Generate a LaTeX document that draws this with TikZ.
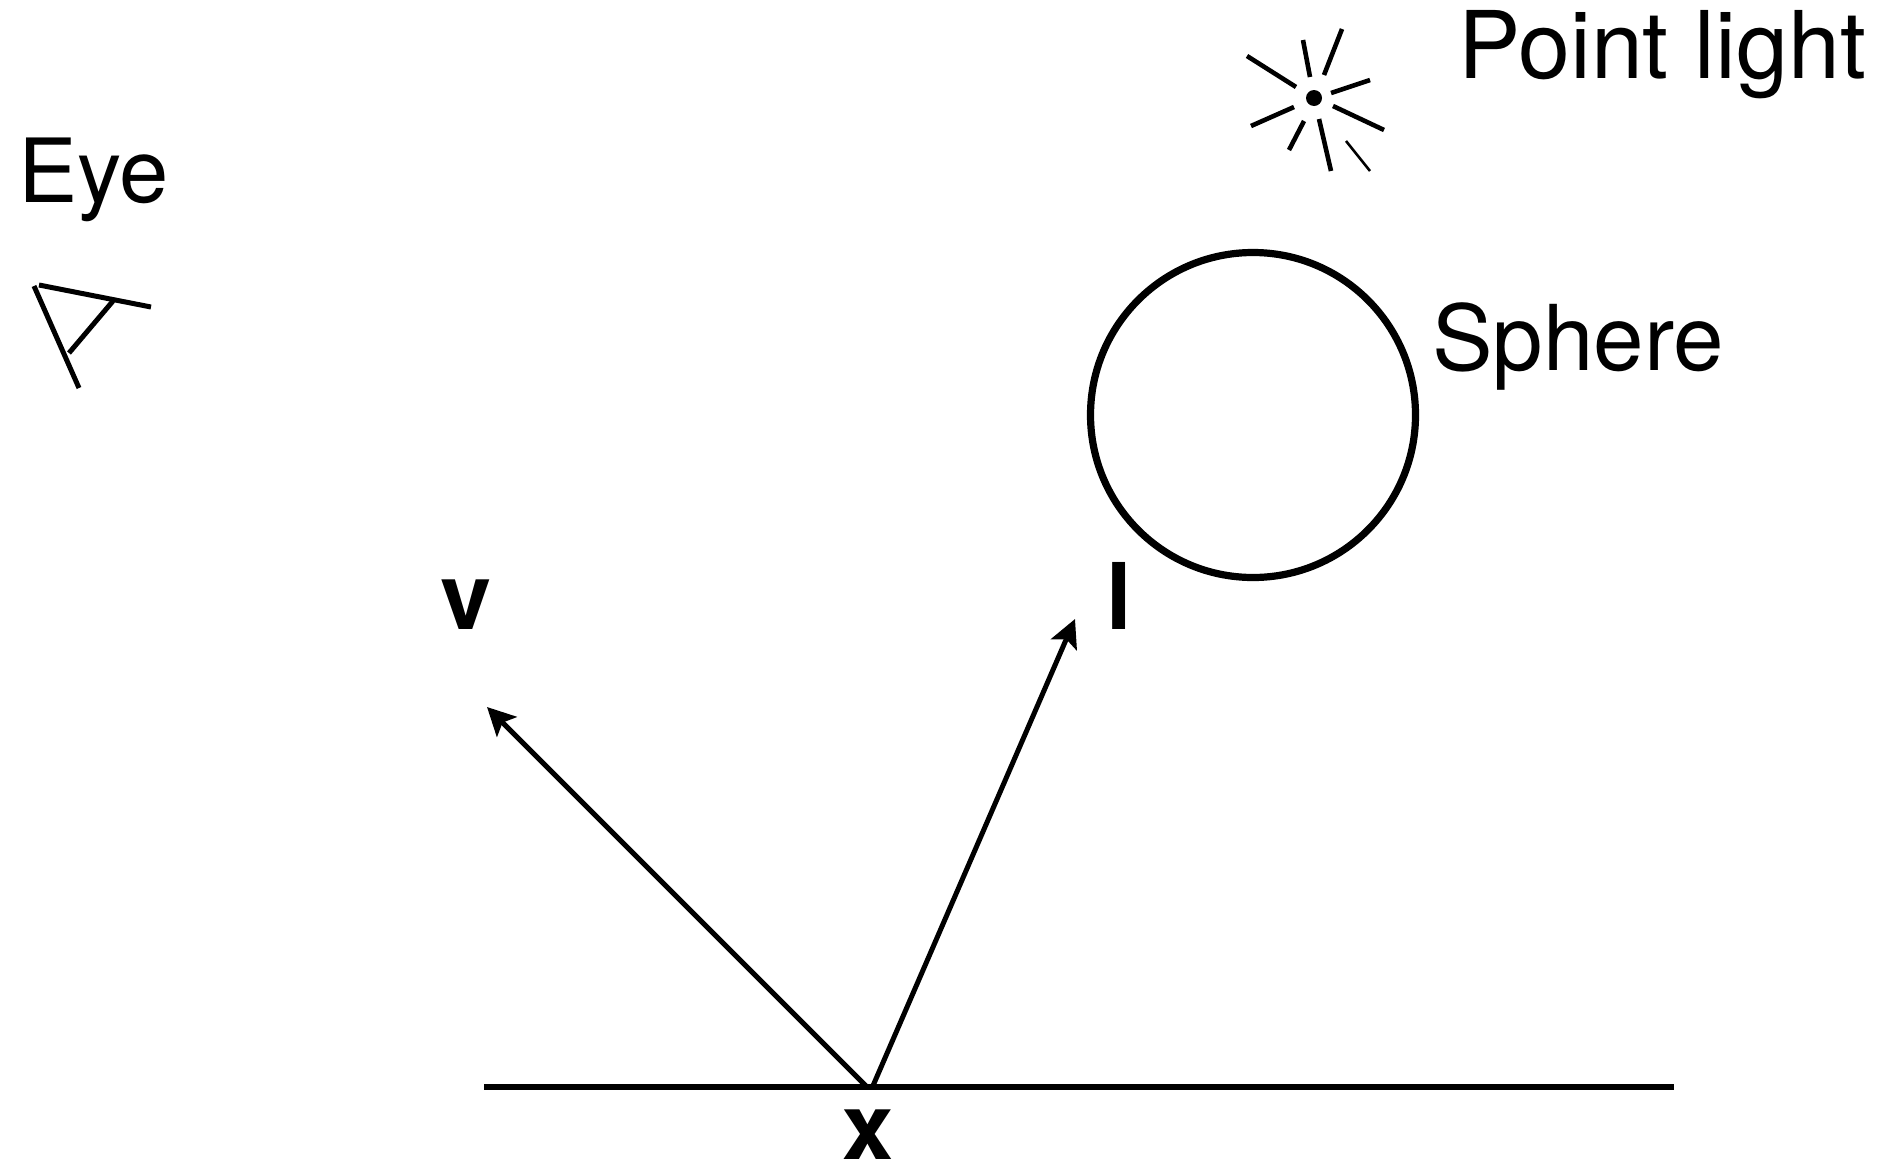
\documentclass[tikz,border=0pt]{standalone}
\usepackage{fontspec}
\setmainfont{TeX Gyre Heros}
\usetikzlibrary{arrows.meta}

\begin{document}
\begin{tikzpicture}[
  x=0.5pt, y=-0.5pt,
  >={Stealth[length=14pt,width=14pt,inset=3pt]},
  lbl/.style={anchor=base west, inner sep=0pt},
  vec/.style={anchor=base, inner sep=0pt, font=\fontsize{46}{54}\selectfont\bfseries},
  ray/.style={line width=2.3pt},
  ray thin/.style={line width=1.3pt},
  ray eye/.style={line width=2.5pt},
  arrow/.style={->, line width=2.5pt}
]
  \useasboundingbox (0,0) rectangle (1878,1162);

  \coordinate (xv) at (868,1088);
  \coordinate (xl) at (872,1088);
  \coordinate (vtip) at (487,707);
  \coordinate (ltip) at (1075,619);
  \coordinate (gl) at (484,1087);
  \coordinate (gr) at (1674,1087);

  \node[lbl, font=\fontsize{44.3}{54}\selectfont] (eye)    at (18,202)   {Eye};
  \node[lbl, font=\fontsize{46.7}{54}\selectfont] (plight) at (1458,78)  {Point light};
  \node[lbl, font=\fontsize{45.4}{54}\selectfont] (sph)    at (1432,370) {Sphere};
  \node[vec] (vlab)   at (466,629)  {v};
  \node[vec] (llab)   at (1119,629) {l};
  \node[vec] (xlab)   at (868,1159) {x};

  % surface and vectors
  \draw[line width=2.8pt] (gl) -- (gr);
  \draw[arrow] (xv) -- (vtip);
  \draw[arrow] (xl) -- (ltip);

  % sphere
  \node[draw, circle, line width=3.6pt, minimum size=162.5pt, inner sep=0pt] (ball) at (1253,415) {};

  % point light
  \fill (1314,98) circle (4pt);
  \foreach \xa/\ya/\xb/\yb in {1247/56/1296/87, 1303/40/1310/77, 1342/29/1324/75, 1331/93/1370/80,
                               1333/106/1384/130, 1319/119/1331/171, 1304/121/1289/150, 1294/107/1251/126}
    \draw[ray] (\xa,\ya) -- (\xb,\yb);
  \draw[ray thin] (1346,141) -- (1370,171);

  % eye
  \draw[ray eye] (34,286) -- (79,388);
  \draw[ray eye] (39,285) -- (151,307);
  \draw[ray eye] (113,301) -- (69,353);
\end{tikzpicture}
\end{document}
